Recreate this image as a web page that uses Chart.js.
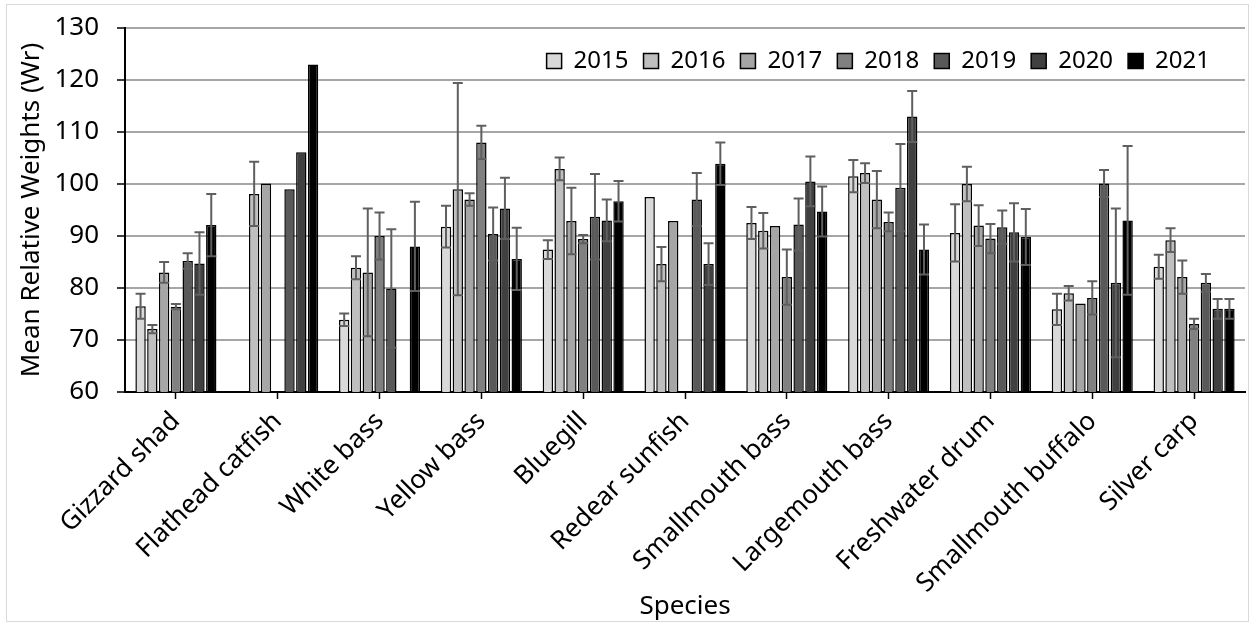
<!DOCTYPE html>
<html>
<head>
<meta charset="utf-8">
<script src="https://cdn.jsdelivr.net/npm/chart.js@4"></script>
<style>
  body { margin: 0; background: #fff; }
  #wrap { position: relative; width: 1253px; height: 626px; }
  #frame { position: absolute; left: 6px; top: 4px; right: 4px; bottom: 4px; border: 1px solid #d9d9d9; pointer-events: none; }
</style>
</head>
<body>
<div id="wrap">
  <canvas id="myGraph" width="1253" height="626"></canvas>
  <div id="frame"></div>
</div>
<script>
const species = ["Gizzard shad", "Flathead catfish", "White bass", "Yellow bass", "Bluegill",
  "Redear sunfish", "Smallmouth bass", "Largemouth bass", "Freshwater drum", "Smallmouth buffalo", "Silver carp"];
const years = ["2015", "2016", "2017", "2018", "2019", "2020", "2021"];
const yearColors = ["#d9d9d9", "#bfbfbf", "#a6a6a6", "#808080", "#595959", "#404040", "#000000"];

// mean Wr per year, one value per species (null = not sampled)
const wr2015 = [76.5, null, 73.9, 91.8, 87.4, 97.5, 92.5, 101.5, 90.6, 75.9, 84.1];
const wr2016 = [72.1, 98.1, 83.9, 99.0, 102.9, 84.6, 91.0, 102.1, 100.0, 79.0, 89.2];
const wr2017 = [83.0, 100.1, 83.0, 97.0, 92.9, 92.9, 91.9, 97.0, 92.0, 77.0, 82.1];
const wr2018 = [76.4, null, 90.0, 108.0, 89.4, null, 82.1, 92.7, 89.5, 78.1, 73.1];
const wr2019 = [85.2, 99.0, 79.9, 90.4, 93.7, 97.0, 92.2, 99.3, 91.7, 100.1, 81.0];
const wr2020 = [84.7, 106.1, null, 95.3, 93.0, 84.6, 100.5, 113.0, 90.7, 81.0, 76.0];
const wr2021 = [92.1, 123.0, 88.0, 85.6, 96.7, 103.9, 94.7, 87.4, 89.8, 93.0, 76.0];

// error bar half-widths (0 = none drawn)
const err2015 = [2.4, 0, 1.2, 4.0, 1.8, 0, 3.1, 3.1, 5.5, 3.0, 2.3];
const err2016 = [0.8, 6.2, 2.2, 20.4, 2.2, 3.3, 3.4, 1.9, 3.3, 1.4, 2.3];
const err2017 = [2.0, 0, 12.3, 1.2, 6.4, 0, 0, 5.5, 3.9, 0, 3.2];
const err2018 = [0.5, 0, 4.5, 3.2, 0.8, 0, 5.3, 1.8, 2.8, 3.2, 1.0];
const err2019 = [1.5, 0, 11.4, 5.1, 8.2, 5.1, 5.0, 8.4, 3.2, 2.6, 1.7];
const err2020 = [6.0, 0, 0, 5.9, 4.0, 4.0, 4.8, 4.9, 5.6, 14.3, 1.9];
const err2021 = [6.0, 0, 8.6, 6.0, 3.9, 4.1, 4.8, 4.8, 5.4, 14.3, 1.9];

const seriesValues = [wr2015, wr2016, wr2017, wr2018, wr2019, wr2020, wr2021];
const seriesErrors = [err2015, err2016, err2017, err2018, err2019, err2020, err2021];

const FONT = "'Noto Sans', 'Open Sans', sans-serif";

// draws +/- error whiskers on top of each bar
const errorBars = {
  id: "errorBars",
  afterDatasetsDraw(chart) {
    const ctx = chart.ctx;
    const y = chart.scales.y;
    ctx.save();
    ctx.strokeStyle = "#5f5f5f";
    ctx.lineWidth = 2;
    chart.data.datasets.forEach((ds, i) => {
      const meta = chart.getDatasetMeta(i);
      meta.data.forEach((bar, j) => {
        const v = ds.data[j];
        const e = ds.errors[j];
        if (v == null || !e) return;
        const top = y.getPixelForValue(v + e);
        const bot = y.getPixelForValue(v - e);
        const half = 5;
        ctx.beginPath();
        ctx.moveTo(bar.x, top); ctx.lineTo(bar.x, bot);
        ctx.moveTo(bar.x - half, top); ctx.lineTo(bar.x + half, top);
        ctx.moveTo(bar.x - half, bot); ctx.lineTo(bar.x + half, bot);
        ctx.stroke();
      });
    });
    ctx.restore();
  }
};

// legend sits inside the plot, top right, without taking layout space
const insideLegend = {
  id: "insideLegend",
  beforeLayout(chart) {
    const lg = chart.legend;
    if (lg && !lg._patched) {
      const fit = lg.fit;
      lg.fit = function () { fit.call(this); this._realHeight = this.height; this.height = 0; };
      lg._patched = true;
    }
  },
  afterLayout(chart) {
    const lg = chart.legend;
    lg.top = 34;
    lg.height = lg._realHeight || 45;
    lg.bottom = lg.top + lg.height;
    lg.right = 1225;
  }
};

const ctx = document.getElementById("myGraph").getContext("2d");
new Chart(ctx, {
  type: "bar",
  data: {
    labels: species,
    datasets: years.map((yr, i) => ({
      label: yr,
      data: seriesValues[i],
      errors: seriesErrors[i],
      backgroundColor: yearColors[i],
      borderColor: "#000",
      borderWidth: 1.5,
      categoryPercentage: 0.81,
      barPercentage: 0.88
    }))
  },
  options: {
    responsive: false,
    animation: false,
    layout: { padding: { left: 6, right: 8, top: 28, bottom: 0 } },
    plugins: {
      legend: {
        position: "top",
        align: "end",
        labels: {
          font: { family: FONT, size: 24 },
          color: "#000",
          boxWidth: 15,
          boxHeight: 15,
          padding: 15
        }
      },
      tooltip: { enabled: false }
    },
    scales: {
      x: {
        afterFit(scale) { scale.height = 626 - 392; },
        grid: { offset: false, drawOnChartArea: false, drawTicks: true, tickLength: 7, tickColor: "#000", tickWidth: 1.5 },
        border: { color: "#000", width: 2 },
        ticks: { font: { family: FONT, size: 26 }, color: "#000", maxRotation: 45, minRotation: 45, autoSkip: false, padding: 7 },
        title: { display: true, text: "Species", font: { family: FONT, size: 26 }, color: "#000", padding: { top: 0, bottom: 4 } }
      },
      y: {
        min: 60,
        max: 130,
        afterFit(scale) { scale.width = 125 - 6; scale.paddingTop = 0; scale.paddingBottom = 0; },
        ticks: { stepSize: 10, font: { family: FONT, size: 26 }, color: "#000", padding: 18 },
        grid: { color: "#a6a6a6", lineWidth: 2, tickColor: "#000", tickLength: 8, tickWidth: 1.5 },
        border: { color: "#000", width: 2 },
        title: { display: true, text: "Mean Relative Weights (Wr)", font: { family: FONT, size: 26 }, color: "#000", padding: { top: 10, bottom: 0 } }
      }
    }
  },
  plugins: [errorBars, insideLegend]
});
</script>
</body>
</html>
